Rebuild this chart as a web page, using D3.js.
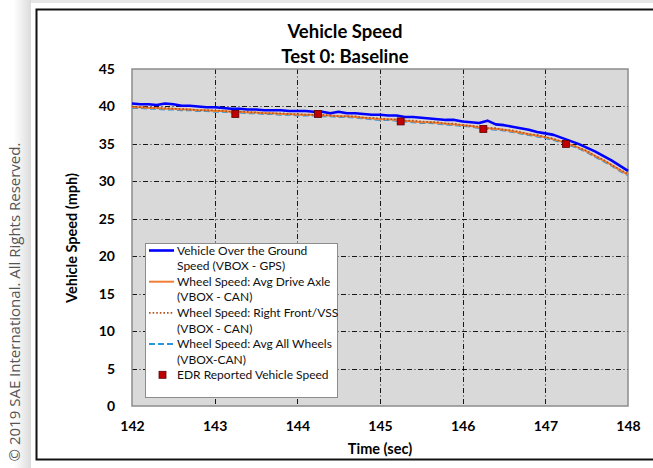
<!DOCTYPE html>
<html>
<head>
<meta charset="utf-8">
<script src="https://cdn.jsdelivr.net/npm/d3@7"></script>
<style>
  body { margin: 0; background: #fff; }
  svg { display: block; }
</style>
</head>
<body>
<svg id="chart" width="653" height="468"></svg>
<script>
// time axis, 0.1 s steps from 142.0 to 148.0
const times = [142.0,142.1,142.2,142.3,142.4,142.5,142.6,142.7,142.8,142.9,
  143.0,143.1,143.2,143.3,143.4,143.5,143.6,143.7,143.8,143.9,
  144.0,144.1,144.2,144.3,144.4,144.5,144.6,144.7,144.8,144.9,
  145.0,145.1,145.2,145.3,145.4,145.5,145.6,145.7,145.8,145.9,
  146.0,146.1,146.2,146.3,146.4,146.5,146.6,146.7,146.8,146.9,
  147.0,147.1,147.2,147.3,147.4,147.5,147.6,147.7,147.8,147.9,148.0];

const gpsSpeed = [40.4,40.3,40.3,40.2,40.4,40.3,40.1,40.1,40.0,39.9,
  39.9,39.8,39.7,39.7,39.6,39.6,39.5,39.5,39.5,39.4,
  39.4,39.4,39.3,39.3,39.1,39.3,39.1,39.1,39.0,38.9,
  38.9,38.8,38.8,38.6,38.6,38.5,38.4,38.3,38.2,38.2,
  38.0,37.9,37.8,38.1,37.6,37.5,37.3,37.1,36.9,36.6,
  36.4,36.2,35.8,35.4,35.0,34.5,34.0,33.4,32.8,32.1,31.4];

const driveAxle = [39.9,39.9,39.8,39.8,39.7,39.7,39.6,39.6,39.5,39.5,
  39.4,39.4,39.3,39.3,39.2,39.2,39.1,39.1,39.0,39.0,
  38.9,38.9,38.9,38.8,38.8,38.7,38.7,38.6,38.5,38.4,
  38.3,38.3,38.2,38.1,38.0,37.9,37.9,37.8,37.7,37.6,
  37.5,37.4,37.2,37.1,37.0,36.9,36.7,36.5,36.3,36.1,
  35.9,35.6,35.3,34.9,34.5,34.0,33.4,32.8,32.2,31.5,30.9];

const rightFront = [40.0,39.9,39.9,39.8,39.8,39.7,39.7,39.6,39.5,39.5,
  39.5,39.4,39.3,39.3,39.3,39.2,39.1,39.1,39.1,39.0,
  39.0,38.9,38.9,38.9,38.8,38.7,38.7,38.7,38.5,38.5,
  38.4,38.3,38.3,38.1,38.1,38.0,37.9,37.9,37.7,37.7,
  37.5,37.4,37.3,37.1,37.1,36.9,36.8,36.6,36.3,36.2,
  35.9,35.7,35.3,35.0,34.5,34.1,33.4,32.9,32.2,31.6,31.0];

const allWheels = [39.8,39.8,39.7,39.7,39.6,39.6,39.5,39.5,39.4,39.4,
  39.3,39.3,39.2,39.2,39.1,39.1,39.0,39.0,38.9,38.9,
  38.8,38.8,38.8,38.7,38.7,38.6,38.6,38.5,38.4,38.3,
  38.2,38.2,38.1,38.0,37.9,37.8,37.8,37.7,37.6,37.5,
  37.4,37.3,37.1,37.0,36.9,36.8,36.6,36.4,36.2,36.0,
  35.8,35.5,35.2,34.8,34.4,33.9,33.3,32.7,32.1,31.4,30.8];

const edrTimes = [143.25, 144.25, 145.25, 146.25, 147.25];
const edrSpeed = [39, 39, 38, 37, 35];

const xTicks = [142, 143, 144, 145, 146, 147, 148];
const yTicks = [0, 5, 10, 15, 20, 25, 30, 35, 40, 45];

const seriesNames = [
  ["Vehicle Over the Ground", "Speed (VBOX - GPS)"],
  ["Wheel Speed: Avg Drive Axle", "(VBOX - CAN)"],
  ["Wheel Speed: Right Front/VSS", "(VBOX - CAN)"],
  ["Wheel Speed: Avg All Wheels", "(VBOX-CAN)"]
];
const edrName = "EDR Reported Vehicle Speed";

const svg = d3.select("#chart");
const W = 653, H = 468;

// page shadow on the left and top
const defs = svg.append("defs");
const grad = defs.append("linearGradient").attr("id", "shade").attr("x1", 0).attr("x2", 1);
grad.append("stop").attr("offset", 0).attr("stop-color", "#fff");
grad.append("stop").attr("offset", 1).attr("stop-color", "#dcdcdc");
svg.append("rect").attr("x", 14).attr("y", 0).attr("width", 17).attr("height", H).attr("fill", "url(#shade)");
svg.append("rect").attr("x", 31).attr("y", 0).attr("width", W - 31).attr("height", 3).attr("fill", "#e6e6e6");
svg.append("rect").attr("x", 31).attr("y", 3).attr("width", W - 31).attr("height", H - 3).attr("fill", "#fff");

// chart frame
svg.append("rect").attr("x", 36.5).attr("y", 9.5).attr("width", W).attr("height", 450)
  .attr("fill", "#fff").attr("stroke", "#111").attr("stroke-width", 2);

// copyright
svg.append("text")
  .attr("transform", "translate(20,302) rotate(-90)")
  .attr("text-anchor", "middle")
  .style("font-family", "'Open Sans', sans-serif")
  .style("font-size", "15px")
  .attr("fill", "#555")
  .text("\u00a9 2019 SAE International. All Rights Reserved.");

const margin = { left: 132, right: 628, top: 69, bottom: 406 };
const x = d3.scaleLinear().domain([142, 148]).range([margin.left, margin.right]);
const y = d3.scaleLinear().domain([0, 45]).range([margin.bottom, margin.top]);

// plot background
svg.append("rect")
  .attr("x", margin.left).attr("y", margin.top)
  .attr("width", margin.right - margin.left).attr("height", margin.bottom - margin.top)
  .attr("fill", "#d9d9d9");

// grid
const grid = svg.append("g").attr("stroke", "#000").attr("stroke-width", 0.9)
  .attr("stroke-dasharray", "5,2.5,1,2.5");
grid.selectAll(".vg").data(xTicks.slice(1, -1)).join("line")
  .attr("x1", d => Math.round(x(d)) + 0.5).attr("x2", d => Math.round(x(d)) + 0.5)
  .attr("y1", margin.top).attr("y2", margin.bottom);
grid.selectAll(".hg").data(yTicks.slice(1, -1)).join("line")
  .attr("y1", d => Math.round(y(d)) + 0.5).attr("y2", d => Math.round(y(d)) + 0.5)
  .attr("x1", margin.left).attr("x2", margin.right);

// plot border
svg.append("rect")
  .attr("x", margin.left).attr("y", margin.top)
  .attr("width", margin.right - margin.left).attr("height", margin.bottom - margin.top)
  .attr("fill", "none").attr("stroke", "#8c8c8c").attr("stroke-width", 1.5);

// axes (labels only)
const xAxis = svg.append("g").attr("transform", `translate(0,${margin.bottom + 12})`)
  .call(d3.axisBottom(x).tickValues(xTicks).tickFormat(d3.format("d")).tickSize(0));
const yAxis = svg.append("g").attr("transform", `translate(${margin.left - 14},0)`)
  .call(d3.axisLeft(y).tickValues(yTicks).tickSize(0));
[xAxis, yAxis].forEach(a => {
  a.select(".domain").remove();
  a.selectAll("text").style("font-family", "Lato, sans-serif")
    .style("font-size", "14px").style("font-weight", "bold").attr("fill", "#000");
});

// series
const line = vals => d3.line().x((d, i) => x(times[i])).y(d => y(d))(vals);
const styles = [
  { vals: allWheels, color: "#2a96dc", width: 2, dash: "6,3" },
  { vals: driveAxle, color: "#f07f34", width: 2, dash: null },
  { vals: rightFront, color: "#b4541a", width: 1.6, dash: "1.6,2" },
];
styles.forEach(s => {
  svg.append("path").attr("d", line(s.vals)).attr("fill", "none")
    .attr("stroke", s.color).attr("stroke-width", s.width)
    .attr("stroke-dasharray", s.dash);
});
svg.append("path").attr("d", line(gpsSpeed)).attr("fill", "none")
  .attr("stroke", "#0000ff").attr("stroke-width", 2.6).attr("stroke-linejoin", "round");

svg.selectAll(".edr").data(edrTimes).join("rect")
  .attr("x", d => x(d) - 3.5).attr("y", (d, i) => y(edrSpeed[i]) - 3.5)
  .attr("width", 7).attr("height", 7)
  .attr("fill", "#c00000").attr("stroke", "#5a0000").attr("stroke-width", 0.8);

// legend
const lg = svg.append("g");
lg.append("rect").attr("x", 145.5).attr("y", 243.5).attr("width", 192).attr("height", 154)
  .attr("fill", "#fff").attr("stroke", "#8c8c8c").attr("stroke-width", 1);
const legendStyles = [
  { color: "#0000ff", width: 2.6, dash: null },
  { color: "#f07f34", width: 2, dash: null },
  { color: "#b4541a", width: 1.6, dash: "1.6,2" },
  { color: "#2a96dc", width: 2, dash: "6,3" },
];
const rowH = 15.6, row0 = 254;
seriesNames.forEach((names, k) => {
  const cy = row0 + k * 2 * rowH;
  const st = legendStyles[k];
  lg.append("line").attr("x1", 149).attr("x2", 174).attr("y1", cy - 3.5).attr("y2", cy - 3.5)
    .attr("stroke", st.color).attr("stroke-width", st.width).attr("stroke-dasharray", st.dash);
  names.forEach((t, j) => {
    lg.append("text").attr("x", 177).attr("y", cy + j * rowH + 0.5)
      .style("font-family", "Lato, sans-serif").style("font-size", "12px").attr("fill", "#111")
      .text(t);
  });
});
const edrY = row0 + 8 * rowH;
lg.append("rect").attr("x", 159).attr("y", edrY - 7.5).attr("width", 7).attr("height", 7)
  .attr("fill", "#c00000").attr("stroke", "#5a0000").attr("stroke-width", 0.8);
lg.append("text").attr("x", 177).attr("y", edrY + 0.5)
  .style("font-family", "Lato, sans-serif").style("font-size", "12px").attr("fill", "#111")
  .text(edrName);

// titles
const bold = sel => sel.style("font-family", "Lato, sans-serif").style("font-weight", "bold").attr("fill", "#000");
svg.append("text").attr("x", 345).attr("y", 38).attr("text-anchor", "middle")
  .style("font-size", "18.5px").call(bold).text("Vehicle Speed");
svg.append("text").attr("x", 345).attr("y", 63).attr("text-anchor", "middle")
  .style("font-size", "18.5px").call(bold).text("Test 0: Baseline");
svg.append("text").attr("x", 380).attr("y", 454).attr("text-anchor", "middle")
  .style("font-size", "14.5px").call(bold).text("Time (sec)");
svg.append("text").attr("transform", "translate(77,238) rotate(-90)").attr("text-anchor", "middle")
  .style("font-size", "14.5px").call(bold).text("Vehicle Speed (mph)");
</script>
</body>
</html>
